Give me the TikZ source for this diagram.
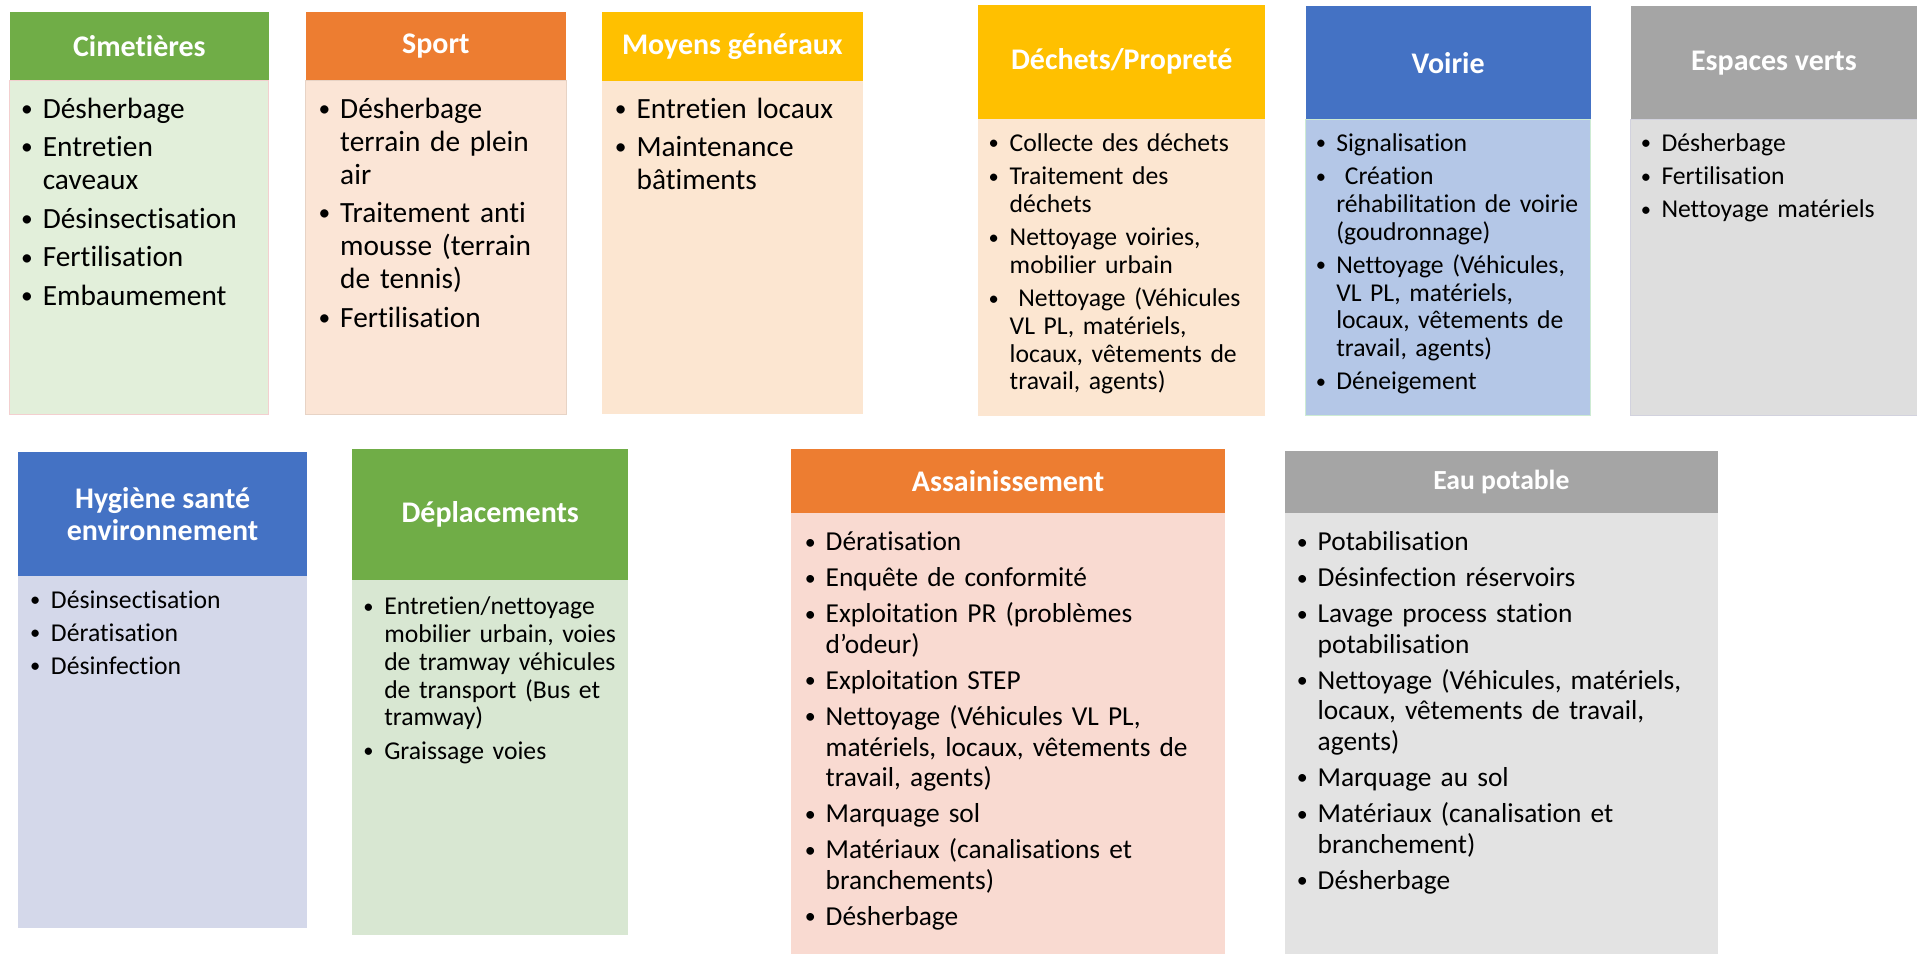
\documentclass[tikz,border=0pt]{standalone}
\usepackage{fontspec}
\setmainfont[Ligatures=NoCommon]{Carlito}

\definecolor{grnH}{HTML}{70AD47}
\definecolor{grnA}{HTML}{E2EFDA}
\definecolor{grnB}{HTML}{D8E7D2}
\definecolor{orgH}{HTML}{ED7D31}
\definecolor{orgA}{HTML}{FBE5D6}
\definecolor{orgB}{HTML}{F9DAD1}
\definecolor{gldH}{HTML}{FFC000}
\definecolor{gldA}{HTML}{FCE6D1}
\definecolor{bluH}{HTML}{4472C4}
\definecolor{bluA}{HTML}{B4C7E7}
\definecolor{bluB}{HTML}{D4D8EA}
\definecolor{gryH}{HTML}{A5A5A5}
\definecolor{gryA}{HTML}{DEDEDE}
\definecolor{gryB}{HTML}{E3E3E3}
\definecolor{edgeP}{HTML}{F3CFCF}
\definecolor{edgeG}{HTML}{CDEBD3}
\definecolor{edgeL}{HTML}{D2D2DE}

\newlength\hng
% one bullet item, lines after the first hang under the text
\newcommand\itm[1]{\hangindent=\hng\hangafter=1\noindent\makebox[\hng][l]{\raisebox{.06em}{\scalebox{.8}{\textbullet}}}\strut#1\par}
\newcommand\hdfont{\fontsize{24.5}{26}\selectfont\bfseries}

\begin{document}
\begin{tikzpicture}[x=1pt, y=-1pt,
    hd/.style={fill=#1, text=white, font=\hdfont, inner sep=0pt, outer sep=0pt, align=center},
    bd/.style={fill=#1, inner sep=0pt, outer sep=0pt, anchor=north, line width=.8pt},
    lst/.style n args={4}{font=\fontsize{#1}{#2}\selectfont,
        execute at begin node={\setlength\parskip{#3pt}\setlength\hng{#4pt}},
        anchor=north west, inner sep=0pt, outer sep=0pt, text width=340pt, align=left}]
    \useasboundingbox (0,0) rectangle (1568,780);

    % top row
    \node[hd=grnH, minimum width=212, minimum height=56] (cimH) at (114,38) {Cimetières};
    \node[bd=grnA, draw=edgeP, minimum width=212, minimum height=273] (cimB) at (cimH.south) {};
    \node[lst={24}{27}{4.5}{17.7}] (cimL) at (17.3,77.8)
        {\itm{Désherbage}\itm{Entretien\newline caveaux}\itm{Désinsectisation}\itm{Fertilisation}\itm{Embaumement}};

    \node[hd=orgH, minimum width=213, minimum height=56] (spoH) at (356.5,38) {Sport};
    \node[bd=orgA, draw=orgA!92!black, minimum width=213, minimum height=273] (spoB) at (spoH.south) {};
    \node[lst={24}{27}{4.5}{17.7}] (spoL) at (260.6,77.8)
        {\itm{Désherbage\newline terrain de plein\newline air}\itm{Traitement anti\newline mousse (terrain\newline de tennis)}\itm{Fertilisation}};

    \node[hd=gldH, minimum width=214, minimum height=56] (moyH) at (599,38) {Moyens généraux};
    \node[bd=gldA, minimum width=214, minimum height=273] (moyB) at (moyH.south) {};
    \node[lst={24}{27}{4.5}{17.7}] (moyL) at (503,77.8)
        {\itm{Entretien locaux}\itm{Maintenance\newline bâtiments}};

    \node[hd=gldH, minimum width=235, minimum height=93] (decH) at (917.5,50.5) {Déchets/Propreté};
    \node[bd=gldA, minimum width=235, minimum height=243] (decB) at (decH.south) {};
    \node[lst={21}{22.7}{4.5}{17.2}] (decL) at (808.7,108)
        {\itm{Collecte des déchets}\itm{Traitement des\newline déchets}\itm{Nettoyage voiries,\newline mobilier urbain}%
         \itm{\ Nettoyage (Véhicules\newline VL PL, matériels,\newline locaux, vêtements de\newline travail, agents)}};

    \node[hd=bluH, minimum width=233, minimum height=93] (voiH) at (1184.5,51.5) {Voirie};
    \node[bd=bluA, draw=edgeG, minimum width=233, minimum height=242] (voiB) at (voiH.south) {};
    \node[lst={21}{22.7}{4.5}{16.8}] (voiL) at (1076.2,108)
        {\itm{Signalisation}\itm{\ Création\newline réhabilitation de voirie\newline (goudronnage)}%
         \itm{Nettoyage (Véhicules,\newline VL PL, matériels,\newline locaux, vêtements de\newline travail, agents)}\itm{Déneigement}};

    \node[hd=gryH, minimum width=234, minimum height=93] (espH) at (1451,51.5) {Espaces verts};
    \node[bd=gryA, draw=edgeL, minimum width=234, minimum height=242] (espB) at (espH.south) {};
    \node[lst={21}{22.7}{4.5}{16.8}] (espL) at (1342.2,108)
        {\itm{Désherbage}\itm{Fertilisation}\itm{Nettoyage matériels}};

    % bottom row
    \node[hd=bluH, minimum width=236, minimum height=101] (hygH) at (133,420.5) {Hygiène santé\\environnement};
    \node[bd=bluB, minimum width=236, minimum height=288] (hygB) at (hygH.south) {};
    \node[lst={21}{22.7}{4.2}{17}] (hygL) at (24.7,481.7)
        {\itm{Désinsectisation}\itm{Dératisation}\itm{Désinfection}};

    \node[hd=grnH, minimum width=226, minimum height=107] (depH) at (401,420.5) {Déplacements};
    \node[bd=grnB, minimum width=226, minimum height=291] (depB) at (depH.south) {};
    \node[lst={21}{22.7}{4.5}{17}] (depL) at (297.3,487.1)
        {\itm{Entretien/nettoyage\newline mobilier urbain, voies\newline de tramway véhicules\newline de transport (Bus et\newline tramway)}\itm{Graissage voies}};

    \node[hd=orgH, minimum width=355, minimum height=53] (assH) at (824.5,393.5) {Assainissement};
    \node[bd=orgB, minimum width=355, minimum height=360] (assB) at (assH.south) {};
    \node[lst={22.4}{25}{4.5}{17}] (assL) at (658.4,432.9)
        {\itm{Dératisation}\itm{Enquête de conformité}\itm{Exploitation PR (problèmes\newline d’odeur)}%
         \itm{Exploitation STEP}\itm{Nettoyage (Véhicules VL PL,\newline matériels, locaux, vêtements de\newline travail, agents)}%
         \itm{Marquage sol}\itm{Matériaux (canalisations et\newline branchements)}\itm{Désherbage}};

    \node[hd=gryH, minimum width=354, minimum height=51, font=\fontsize{22.6}{26}\selectfont\bfseries] (eauH) at (1228,394.5) {Eau potable};
    \node[bd=gryB, minimum width=354, minimum height=360] (eauB) at (eauH.south) {};
    \node[lst={22.4}{25}{4.5}{17}] (eauL) at (1060.8,432.9)
        {\itm{Potabilisation}\itm{Désinfection réservoirs}\itm{Lavage process station\newline potabilisation}%
         \itm{Nettoyage (Véhicules, matériels,\newline locaux, vêtements de travail,\newline agents)}%
         \itm{Marquage au sol}\itm{Matériaux (canalisation et\newline branchement)}\itm{Désherbage}};
\end{tikzpicture}
\end{document}
